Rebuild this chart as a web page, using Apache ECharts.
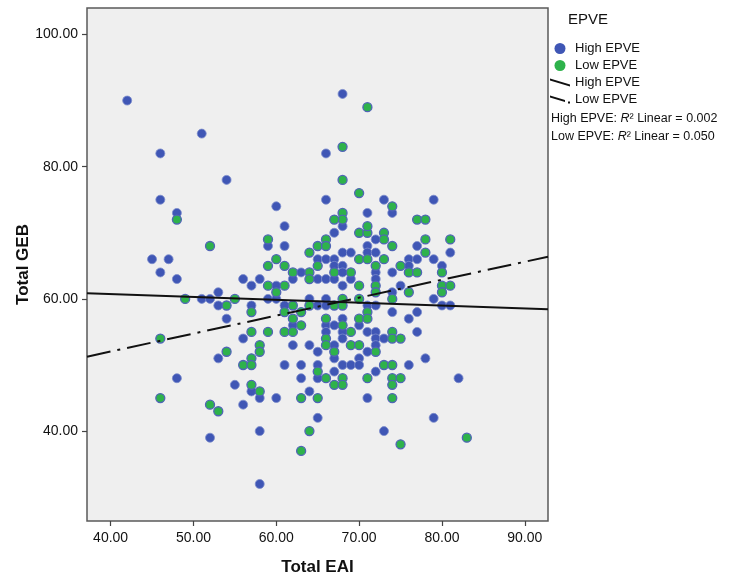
<!DOCTYPE html>
<html>
<head>
<meta charset="utf-8">
<title>Total GEB vs Total EAI</title>
<script src="https://cdn.jsdelivr.net/npm/echarts@6/dist/echarts.min.js"></script>
<style>
  html, body { margin: 0; padding: 0; background: #fff; }
  #chart { width: 731px; height: 578px; }
</style>
</head>
<body>
<div id="chart"></div>
<script>
// 数据: [Total EAI, Total GEB]
var highEPVE = [
  [42,90],[51,85],[46,82],[68,91],[66,82],[54,78],[46,75],[48,73],[45,66],[47,66],
  [46,64],[48,63],[51,60],[52,60],[53,61],[53,59],[54,57],[56,63],[57,62],[58,63],
  [56,54],[57,59],[59,60],[59,68],[60,74],[60,62],[60,60],[61,71],[61,68],[61,59],
  [62,63],[62,56],[62,53],[63,64],[64,60],[64,53],[65,66],[65,63],
  [53,51],[61,50],[63,50],[65,52],[65,50],[65,48],[48,48],[55,47],[57,46],[58,45],
  [60,45],[63,48],[64,46],[56,44],[65,42],[58,40],[52,39],[58,32],
  [66,75],[73,75],[79,75],[71,73],[74,73],[68,71],[67,70],[72,69],[71,68],[77,68],
  [68,67],[69,67],[71,67],[72,67],[81,67],[66,66],[67,66],[76,66],[77,66],[79,66],
  [67,65],[68,65],[76,65],[80,65],[68,64],[72,64],[74,64],[66,63],[67,63],[69,63],
  [72,63],[68,62],[75,62],[74,61],[66,60],[79,60],[65,59],[66,59],[71,59],[72,59],
  [80,59],[81,59],[74,58],[77,58],[68,57],[76,57],[66,56],[67,56],[70,56],[66,55],
  [68,55],[71,55],[72,55],[77,55],[68,54],[72,54],[73,54],[67,53],[72,53],
  [70,51],[71,52],[67,51],[68,50],[69,50],[70,50],[76,50],[78,51],[67,49],[72,49],
  [82,48],[71,45],[79,42],[73,40]
];
var lowEPVE = [
  [71,89],[68,83],[48,72],[52,68],[49,60],[54,59],[55,60],[57,58],[57,55],[58,53],
  [59,55],[59,62],[59,65],[59,69],[60,66],[60,61],[61,65],[61,62],[61,58],[61,55],
  [62,64],[62,59],[62,57],[62,55],[63,58],[63,56],[64,67],[64,64],[64,63],[64,59],
  [65,68],[65,65],[46,54],
  [58,52],[54,52],[57,51],[56,50],[57,50],[65,49],[57,47],[58,46],[63,45],[65,45],
  [46,45],[52,44],[53,43],[64,40],[63,37],
  [68,78],[70,76],[74,74],[68,73],[68,72],[67,72],[77,72],[78,72],[70,70],[71,70],
  [71,71],[73,70],[73,69],[66,69],[66,68],[74,68],[78,69],[81,69],[78,67],[70,66],
  [71,66],[73,66],[72,65],[75,65],[67,64],[69,64],[76,64],[77,64],[80,64],[70,62],
  [72,62],[80,62],[81,62],[72,61],[76,61],[80,61],[68,60],[70,60],[74,60],[67,59],
  [68,59],[71,58],[66,57],[70,57],[71,57],[68,56],[69,55],[74,55],[66,54],[74,54],
  [75,54],[66,53],[69,53],[70,53],
  [67,52],[72,52],[73,50],[74,50],[66,48],[68,48],[71,48],[74,48],[75,48],[67,47],
  [68,47],[74,47],[74,45],[83,39],[75,38]
];
// 线性拟合 [截距, 斜率]
var highFit = [62.48, -0.0435];
var lowFit = [41.17, 0.2716];
var rSquared = ['0.002', '0.050'];
var xTicks = [40, 50, 60, 70, 80, 90];
var yTicks = [40, 60, 80, 100];
var xRange = [37.15, 92.8];
var yRange = [26.4, 104.0];

function fitLine(fit) {
  return xRange.map(function (x) { return [x, fit[0] + fit[1] * x]; });
}

var font = 'Liberation Sans, Arial, sans-serif';
var myChart = echarts.init(document.getElementById('chart'));

var option = {
  animation: false,
  backgroundColor: '#ffffff',
  grid: {
    left: 87, right: 183, top: 8, bottom: 57,
    outerBoundsMode: 'none',
    show: true,
    backgroundColor: '#efefef',
    borderColor: '#5a5a5a',
    borderWidth: 1.5
  },
  xAxis: {
    type: 'value',
    min: xRange[0], max: xRange[1],
    name: 'Total EAI',
    nameLocation: 'middle',
    nameGap: 38,
    nameMoveOverlap: false,
    nameTextStyle: { fontFamily: font, fontSize: 17, fontWeight: 'bold', color: '#111' },
    splitLine: { show: false },
    axisLine: { show: false },
    axisTick: { show: true, length: 5, customValues: xTicks, lineStyle: { color: '#444', width: 1.2 } },
    axisLabel: {
      customValues: xTicks, margin: 10,
      fontFamily: font, fontSize: 14, color: '#111',
      formatter: function (v) { return v.toFixed(2); }
    }
  },
  yAxis: {
    type: 'value',
    min: yRange[0], max: yRange[1],
    name: 'Total GEB',
    nameLocation: 'middle',
    nameGap: 55,
    nameMoveOverlap: false,
    nameTextStyle: { fontFamily: font, fontSize: 17, fontWeight: 'bold', color: '#111' },
    splitLine: { show: false },
    axisLine: { show: false },
    axisTick: { show: true, length: 5, customValues: yTicks, lineStyle: { color: '#444', width: 1.2 } },
    axisLabel: {
      customValues: yTicks, margin: 9,
      fontFamily: font, fontSize: 14, color: '#111',
      formatter: function (v) { return v.toFixed(2); }
    }
  },
  legend: {
    orient: 'vertical',
    left: 545, top: 37,
    itemWidth: 20, itemHeight: 11, itemGap: 4,
    textStyle: { fontFamily: font, fontSize: 13, color: '#111' },
    formatter: function (name) { return name.replace(' fit', ''); },
    data: [
      { name: 'High EPVE', icon: 'circle', itemStyle: { borderWidth: 0 } },
      { name: 'Low EPVE', icon: 'circle', itemStyle: { borderWidth: 0 } },
      { name: 'High EPVE fit', icon: 'path://M0,0 L20,6 L20,8 L0,2 Z',
        itemStyle: { color: '#111', borderWidth: 0 } },
      { name: 'Low EPVE fit', icon: 'path://M0,0 L15,4.5 L15,6.5 L0,2 Z M18,6 L20,6 L20,8 L18,8 Z',
        itemStyle: { color: '#111', borderWidth: 0 } }
    ]
  },
  graphic: [
    { type: 'text', left: 568, top: 12,
      style: { text: 'EPVE', fontFamily: font, fontSize: 15, fill: '#111' } },
    { type: 'text', left: 551, top: 112,
      style: {
        text: '{n|High EPVE: }{i|R}{n|² Linear = ' + rSquared[0] + '}',
        rich: {
          n: { fontFamily: font, fontSize: 12.5, fill: '#111' },
          i: { fontFamily: font, fontSize: 12.5, fontStyle: 'italic', fill: '#111' }
        }
      } },
    { type: 'text', left: 551, top: 130,
      style: {
        text: '{n|Low EPVE: }{i|R}{n|² Linear = ' + rSquared[1] + '}',
        rich: {
          n: { fontFamily: font, fontSize: 12.5, fill: '#111' },
          i: { fontFamily: font, fontSize: 12.5, fontStyle: 'italic', fill: '#111' }
        }
      } }
  ],
  series: [
    {
      name: 'High EPVE', type: 'scatter',
      data: highEPVE,
      symbolSize: 9,
      itemStyle: { color: '#3f56b5', borderColor: '#7b8bcc', borderWidth: 0.8, opacity: 1 },
      z: 2
    },
    {
      name: 'Low EPVE', type: 'scatter',
      data: lowEPVE,
      symbolSize: 9,
      itemStyle: { color: '#2eb24b', borderColor: '#5064b6', borderWidth: 1.3, opacity: 1 },
      z: 3
    },
    {
      name: 'High EPVE fit', type: 'line',
      data: fitLine(highFit),
      showSymbol: false, silent: true,
      lineStyle: { color: '#111', width: 2 },
      itemStyle: { color: '#111' },
      z: 4
    },
    {
      name: 'Low EPVE fit', type: 'line',
      data: fitLine(lowFit),
      showSymbol: false, silent: true,
      lineStyle: { color: '#111', width: 2, type: [24, 7, 3, 7] },
      itemStyle: { color: '#111' },
      z: 4
    }
  ]
};
myChart.setOption(option);
</script>
</body>
</html>
